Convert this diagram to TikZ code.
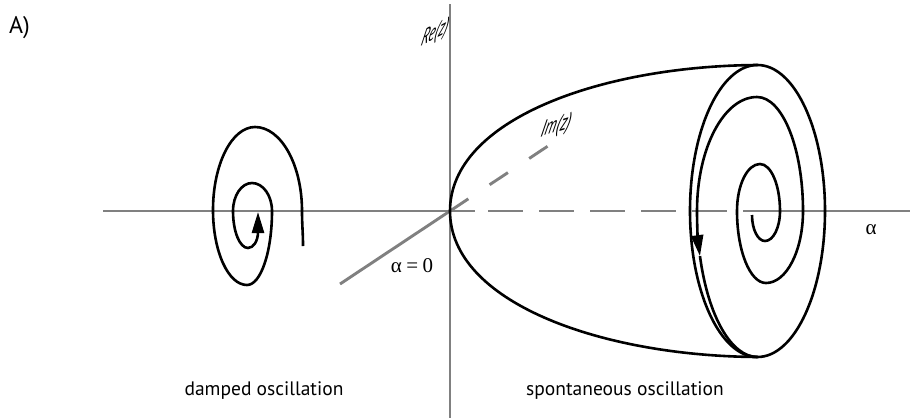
\documentclass[tikz,border=0pt]{standalone}
\usepackage{fontspec}
\setmainfont{PT Sans}
\newfontfamily\greekserif{Liberation Serif}
\usetikzlibrary{arrows.meta}
\definecolor{axisgray}{RGB}{128,128,128}
\begin{document}
\begin{tikzpicture}[x=1pt,y=1pt,
  axis/.style={axisgray, line width=2.9pt},
  curve/.style={black, line width=2.6pt},
  tip/.style={-{Triangle[length=21pt,width=12pt]}},
  lbl/.style={font=\fontsize{19.5}{23}\selectfont, inner sep=0pt},
  bigl/.style={font=\fontsize{24}{28}\selectfont, inner sep=0pt},
  glbl/.style={font=\greekserif\fontsize{21}{24}\selectfont, inner sep=0pt},
  tiltRe/.style={font=\itshape\fontsize{15.5}{15}\selectfont, inner sep=0pt, cm={0.89,0.45,0.34,1.53,(0,0)}},
  tiltIm/.style={font=\itshape\fontsize{15.5}{15}\selectfont, inner sep=0pt, cm={0.96,0.28,0.34,1.53,(0,0)}},
]
\useasboundingbox (0,0) rectangle (910,-418);

% axis points
\coordinate (O) at (450,-211);
\coordinate (Vtop) at (450,-4);
\coordinate (Vbot) at (450,-418);
\coordinate (Hleft) at (103,-211);
\coordinate (Hd1) at (475,-211);
\coordinate (Hd2) at (488,-211);
\coordinate (Hd3) at (772,-211);
\coordinate (Hright) at (910,-211);
\coordinate (ImLow) at (340,-284);
\coordinate (ImEnd) at (548,-146);

% axes
\draw[axis] (Vtop) -- (Vbot);
\draw[axis] (Hleft) -- (O) -- (Hd1);
\draw[axis, dash pattern=on 35pt off 16pt] (Hd2) -- (Hd3);
\draw[axis] (Hd3) -- (Hright);
\draw[axis] (ImLow) -- (O);
\draw[axis, dash pattern=on 22pt off 25.5pt] (O) -- (ImEnd);

% damped spiral
\draw[curve, tip] (303,-246) to[out=90,in=-90] (302,-211)
  arc[start angle=0,end angle=90,x radius=47,y radius=84]
  arc[start angle=90,end angle=180,x radius=42,y radius=83]
  arc[start angle=180,end angle=270,x radius=34,y radius=75]
  arc[start angle=270,end angle=360,x radius=25,y radius=74]
  arc[start angle=0,end angle=90,x radius=20,y radius=28]
  arc[start angle=90,end angle=180,x radius=19,y radius=28]
  arc[start angle=180,end angle=270,x radius=15,y radius=37]
  arc[start angle=270,end angle=360,x radius=10,y radius=16]
  -- ++(0,20);

% cup
\draw[curve] (757.5,-65) .. controls (600,-66) and (450,-120) .. (O)
  .. controls (450,-302) and (600,-356) .. (757.5,-357);

% limit cycle
\draw[curve] (757.5,-211) ellipse[x radius=67.5, y radius=146];

% growing spiral
\draw[curve, tip] (752,-215)
  arc[start angle=180,end angle=270,x radius=13,y radius=26]
  arc[start angle=270,end angle=360,x radius=15,y radius=30]
  arc[start angle=0,end angle=90,x radius=20,y radius=47]
  arc[start angle=90,end angle=180,x radius=23,y radius=47]
  arc[start angle=180,end angle=270,x radius=29,y radius=72]
  arc[start angle=270,end angle=360,x radius=37,y radius=72]
  arc[start angle=0,end angle=90,x radius=46,y radius=114]
  arc[start angle=90,end angle=180,x radius=60,y radius=114]
  arc[start angle=180,end angle=198,x radius=60.5,y radius=146] coordinate (rs);
\draw[curve] (rs) arc[start angle=198,end angle=270,x radius=60.5,y radius=146];

% labels
\node[bigl, anchor=base west] (lA) at (9,-33) {A)};
\node[lbl] (ldamped) at (264,-391) {damped oscillation};
\node[lbl] (lspont) at (625,-391) {spontaneous oscillation};
\node[glbl] (la0) at (412,-266) {α\hspace{4.5pt}=\hspace{4.5pt}0};
\node[glbl] (la) at (871,-230) {α};
\node[tiltRe] (lre) at (435,-34) {Re(z)};
\node[tiltIm] (lim) at (556,-127) {Im(z)};
\end{tikzpicture}
\end{document}
